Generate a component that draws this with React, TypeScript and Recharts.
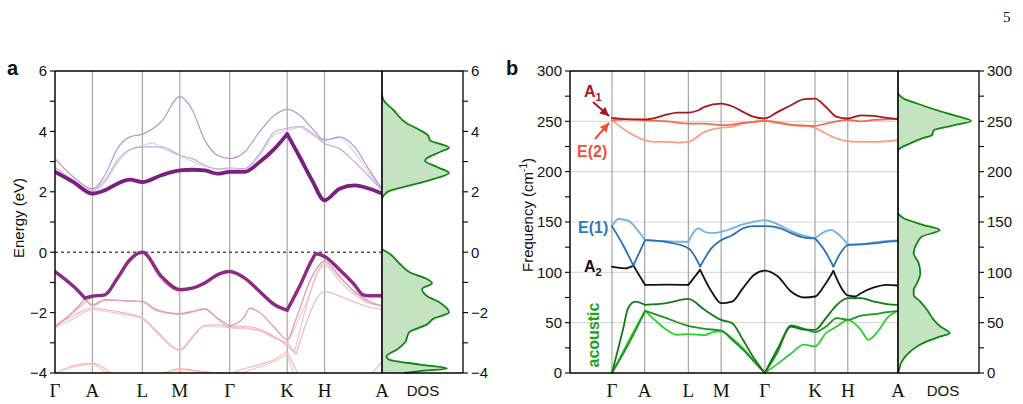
import React from 'react';
import { LineChart, Line, XAxis, YAxis, CartesianGrid, ReferenceLine, AreaChart, Area } from 'recharts';

// High-symmetry path (cumulative k distance) and labels
const HS_K = [0, 0.75, 1.75, 2.5, 3.5, 4.65, 5.4, 6.55];
const HS_LABELS = ['Γ', 'A', 'L', 'M', 'Γ', 'K', 'H', 'A'];

const E_TICKS = [-4, -3, -2, -1, 0, 1, 2, 3, 4, 5, 6];
const F_TICKS = [0, 25, 50, 75, 100, 125, 150, 175, 200, 225, 250, 275, 300];
const F_GRID = [50, 100, 150, 200, 250];

// ---- Electronic bands: [k, E (eV), kink?] ----
const cbUpper = [[0, 3.1], [0.37, 2.49], [0.75, 2.1], [1.0, 2.55], [1.25, 3.43], [1.5, 3.82], [1.75, 3.91], [2.13, 4.32], [2.5, 5.15], [2.75, 4.71], [3.0, 3.71], [3.25, 3.21], [3.5, 3.1], [3.8, 3.32], [4.1, 3.99], [4.4, 4.54], [4.65, 4.73], [4.9, 4.54], [5.15, 4.1], [5.4, 3.71], [5.7, 3.82], [6.0, 3.49], [6.3, 2.71], [6.55, 2.1]];
const cbMiddle = [[0, 2.82], [0.37, 2.38], [0.75, 2.05], [1.0, 2.38], [1.25, 3.04], [1.5, 3.4], [1.75, 3.49], [2.13, 3.49], [2.5, 3.21], [2.75, 3.1], [3.0, 2.88], [3.25, 2.75], [3.5, 2.79], [3.8, 2.77], [4.1, 3.27], [4.4, 3.99], [4.65, 4.1], [4.9, 4.17], [5.15, 3.95], [5.4, 3.6], [5.7, 3.43], [6.0, 2.99], [6.3, 2.49], [6.55, 2.05]];
const cbMiddle2 = [[0, 2.76], [0.37, 2.34], [0.75, 2.0], [1.0, 2.3], [1.25, 2.95], [1.5, 3.38], [1.75, 3.52], [1.95, 3.62], [2.13, 3.45], [2.5, 3.2], [3.0, 2.84], [3.5, 2.74], [3.8, 2.74], [4.1, 3.2], [4.4, 3.9], [4.65, 4.02], [4.9, 4.14], [5.15, 3.88], [5.4, 3.72], [5.7, 3.78], [6.0, 3.3], [6.3, 2.6], [6.55, 2.08]];
const cbLowest = [[0, 2.66], [0.37, 2.32], [0.75, 1.94], [1.0, 2.05], [1.25, 2.27], [1.5, 2.4], [1.75, 2.32], [2.13, 2.55], [2.5, 2.71], [2.75, 2.73], [3.0, 2.71], [3.25, 2.6], [3.5, 2.66], [3.8, 2.66], [4.1, 2.99], [4.4, 3.43], [4.65, 3.91, 1], [4.9, 3.16], [5.15, 2.38], [5.4, 1.72], [5.7, 2.1], [6.0, 2.21], [6.3, 2.1], [6.55, 1.94]];

const vbTop = [[0, -0.64], [0.37, -1.13], [0.6, -1.52, 1], [0.75, -1.46], [1.0, -1.41], [1.25, -0.86], [1.5, -0.25], [1.75, 0], [2.13, -0.8], [2.5, -1.24], [2.75, -1.19], [3.0, -1.02], [3.25, -0.75], [3.5, -0.64], [3.8, -0.86], [4.1, -1.3], [4.4, -1.74], [4.65, -1.92, 1], [4.9, -1.13], [5.15, -0.25], [5.23, -0.05], [5.4, -0.14], [5.7, -0.58], [6.0, -1.08], [6.17, -1.41], [6.3, -1.44], [6.55, -1.44]];
const vbSecond = [[1.5, -0.3], [1.75, -0.02], [2.13, -0.92], [2.5, -1.3], [2.75, -1.22]];
const vbP1 = [[0, -2.45], [0.37, -1.96], [0.6, -1.55, 1], [0.75, -1.74], [1.0, -1.57], [1.5, -1.62], [1.75, -1.63], [2.03, -1.9], [2.5, -2.03], [2.75, -1.96], [3.0, -1.87], [3.25, -2.18], [3.5, -2.45, 1], [3.8, -2.12], [3.9, -1.85], [4.1, -2.0], [4.4, -2.5], [4.65, -2.89], [4.83, -2.2], [5.15, -0.8], [5.4, -0.3], [5.7, -0.8], [6.0, -1.3], [6.3, -1.65], [6.55, -1.79]];
const vbP2 = [[0, -2.45], [0.37, -2.1], [0.75, -1.85], [1.0, -1.9], [1.5, -2.05], [1.75, -2.18], [2.03, -2.6], [2.5, -3.22], [2.75, -2.8], [3.0, -2.42], [3.25, -2.4], [3.5, -2.45], [3.8, -2.45], [4.1, -2.55], [4.4, -2.8], [4.65, -3.1], [4.83, -3.38, 1], [5.0, -2.5], [5.4, -1.3], [5.7, -1.45], [6.0, -1.65], [6.3, -1.82], [6.55, -1.9]];
const vbP3 = [[0, -2.5], [0.37, -2.0], [0.65, -1.6, 1], [0.75, -1.8], [1.0, -1.6], [1.5, -1.6], [1.75, -1.65], [2.03, -1.95], [2.5, -2.07], [3.0, -1.9], [3.25, -2.2], [3.5, -2.5], [3.8, -2.5], [4.1, -2.6], [4.4, -2.85], [4.65, -3.0], [4.8, -3.3, 1], [5.0, -2.0], [5.4, -0.42], [5.7, -0.95], [6.0, -1.4], [6.3, -1.7], [6.55, -1.75]];
const vbP4 = [[0, -2.5], [0.37, -2.2], [0.75, -1.9], [1.0, -1.95], [1.5, -2.1], [1.75, -2.2], [2.03, -2.65], [2.5, -3.25], [3.0, -2.45], [3.5, -2.5], [4.1, -2.6], [4.65, -3.05, 1], [5.0, -1.8], [5.4, -0.35], [5.7, -0.85], [6.0, -1.3], [6.3, -1.6], [6.55, -1.8]];
const vbDeep1 = [[0, -4.05], [0.37, -3.75], [0.75, -3.68], [1.0, -3.85], [1.25, -4.15], [1.5, -4.3], [2.03, -4.1], [2.5, -3.85], [2.75, -3.9], [3.0, -3.95], [3.5, -4.0], [3.8, -3.85], [4.1, -3.72], [4.4, -3.55], [4.65, -3.3, 1], [4.83, -3.9], [5.0, -4.5]];
const vbDeep2 = [[0, -4.0], [0.37, -3.8], [0.75, -3.72], [1.0, -3.95], [1.25, -4.2], [2.03, -4.05], [2.5, -3.9], [3.0, -3.98], [3.5, -4.05], [4.1, -3.8], [4.4, -3.62], [4.65, -3.4, 1], [4.8, -4.1], [5.0, -4.6]];
const vbDeep3 = [[5.9, -4.6], [6.3, -4.1], [6.55, -3.62]];

// ---- Phonon branches: [k, frequency (cm^-1), kink?] ----
const phA1 = [[0, 253.4], [0.37, 252], [0.76, 252], [1.0, 253.5], [1.25, 256.7], [1.5, 258.7], [1.75, 258.7], [1.98, 261], [2.12, 264.3], [2.5, 267.6], [2.75, 265], [3.0, 259.4], [3.25, 254.4], [3.5, 252.8], [3.8, 259.4], [4.1, 266], [4.4, 272], [4.65, 272.6], [4.9, 264.3], [5.15, 254.4], [5.4, 252.8], [5.7, 256], [6.0, 255.4], [6.3, 253.4], [6.55, 252]];
const phE2a = [[0, 251.1], [0.37, 252], [0.76, 251], [1.25, 250], [1.75, 247.8], [2.12, 247.8], [2.5, 246.2], [2.75, 246.8], [3.0, 248.5], [3.25, 249.5], [3.5, 250.4], [3.8, 248.5], [4.1, 246.5], [4.4, 245.5], [4.65, 245.5], [4.9, 247.8], [5.15, 250], [5.4, 251.4], [5.7, 250], [6.0, 251.4], [6.3, 252], [6.55, 252.8]];
const phE2b = [[0, 251], [0.37, 239.5], [0.76, 231.2], [1.0, 229.6], [1.25, 229.6], [1.5, 228.9], [1.75, 229.6], [2.12, 239.5], [2.5, 243.5], [2.75, 244.5], [3.0, 247.8], [3.25, 249.5], [3.5, 250.4], [3.8, 249.5], [4.1, 246.8], [4.4, 246.2], [4.65, 243.5], [4.9, 237.9], [5.15, 232.9], [5.4, 230.2], [5.7, 229.6], [6.0, 229.6], [6.3, 230.2], [6.55, 231.2]];
const phE1a = [[0, 145.9], [0.15, 153], [0.37, 151.3], [0.57, 143], [0.76, 131.9, 1], [1.0, 131.3], [1.25, 131], [1.5, 130.4], [1.75, 130.4, 1], [1.98, 143.6], [2.12, 140.3], [2.28, 139], [2.5, 140.3], [2.75, 143.6], [3.0, 147.6], [3.25, 150.2], [3.5, 151.9], [3.8, 147.6], [4.1, 141], [4.4, 136.4], [4.65, 133.7, 1], [4.9, 141], [5.03, 142], [5.15, 139], [5.4, 127.8, 1], [5.7, 127.8], [6.0, 129.7], [6.3, 131], [6.55, 131.9]];
const phE1b = [[0, 145.9], [0.26, 126.7], [0.49, 106.9, 1], [0.76, 131.9, 1], [1.25, 130], [1.75, 124], [2.02, 105.8, 1], [2.28, 124], [2.5, 131.9], [2.75, 136.8], [3.0, 143.6], [3.25, 145.9], [3.5, 145.9], [3.8, 144.5], [4.1, 139], [4.4, 134.5], [4.65, 133.7, 1], [4.88, 121], [5.07, 105.8, 1], [5.26, 121], [5.4, 127.1], [5.7, 127.8], [6.0, 128.7], [6.3, 130.4], [6.55, 131.3]];
const phA2 = [[0, 105.7], [0.3, 104], [0.49, 106.7, 1], [0.76, 87.5, 1], [1.25, 87.8], [1.75, 87.5, 1], [2.02, 102.4, 1], [2.28, 80.9], [2.5, 69.4], [2.75, 71], [3.0, 84.3], [3.25, 97.4], [3.5, 101.7], [3.8, 95.8], [4.1, 80.9], [4.4, 75], [4.65, 76], [4.88, 88], [5.07, 101.4, 1], [5.26, 84], [5.4, 77], [5.57, 76], [5.7, 79.3], [6.0, 85], [6.3, 87.5], [6.55, 86.9]];
const phAc1 = [[0, 0], [0.26, 44.5], [0.37, 64.4], [0.53, 71], [0.76, 67.7, 1], [1.25, 69.4], [1.75, 73.6], [2.12, 62.8], [2.5, 52.8], [2.75, 49.6], [3.0, 33], [3.25, 14.8], [3.5, 0, 1], [3.8, 24.7], [4.1, 46.2], [4.4, 43], [4.65, 42.9], [4.9, 54.5], [5.15, 67.7], [5.4, 74.3], [5.7, 74.3], [6.0, 71], [6.3, 68.4], [6.55, 67.7]];
const phAc2 = [[0, 0], [0.37, 28], [0.76, 61.8, 1], [1.25, 54.5], [1.75, 46.8], [2.12, 43.9], [2.5, 42], [2.75, 33], [3.0, 23.3], [3.25, 11.6], [3.5, 0, 1], [3.8, 21.4], [4.1, 47.2], [4.4, 43.9], [4.65, 40.6], [4.9, 46.2], [5.15, 54.5], [5.4, 52.8], [5.7, 57.1], [6.0, 58.4], [6.3, 60.4], [6.55, 61.8]];
const phAc3 = [[0, 0], [0.37, 30.7], [0.76, 61.8, 1], [1.0, 52], [1.25, 42.9], [1.5, 38], [1.75, 38.6], [1.98, 38], [2.12, 37.5], [2.28, 40], [2.5, 41.3], [2.75, 34.6], [3.0, 24.7], [3.25, 12.3], [3.5, 0, 1], [3.8, 9.3], [4.1, 19.3], [4.4, 28.1], [4.65, 26.4], [4.9, 39.6], [5.15, 46.2], [5.4, 52.8], [5.7, 42.9], [5.87, 33], [6.1, 42], [6.3, 54.5], [6.55, 61.8]];

// ---- Densities of states ----
const DOS_E = [-4, -3.94, -3.85, -3.72, -3.55, -3.45, -3.22, -2.99, -2.66, -2.39, -2.19, -2.0, -1.67, -1.45, -1.22, -1.03, -0.89, -0.67, -0.39, -0.06, 0.1, 0.9, 1.77, 1.88, 2.04, 2.21, 2.43, 2.62, 2.82, 3.04, 3.32, 3.46, 3.59, 3.7, 3.87, 4.04, 4.26, 4.7, 5.03, 5.2];
const DOS_EL = [22, 38, 65, 38, 6.7, 4.5, 15, 23, 27, 45, 52, 67, 58, 45, 40, 50, 45, 28, 18, 8, 0, null, 0, 1.7, 8, 28, 52, 67, 55, 43, 58, 67, 58, 48, 46, 38, 25, 11.7, 1.7, 0];
const DOS_F = [0, 1.7, 9.9, 18.2, 26.4, 31.4, 36.3, 39.6, 46.2, 52.8, 62.8, 71, 77.6, 82.6, 89.2, 99.1, 109, 119, 129, 135.5, 142, 147, 153.7, 158.6, 190, 221.4, 223, 228, 233, 236.3, 241.2, 246, 250.4, 255.1, 261, 267.7, 272.6, 277.6];
const DOS_PH = [0, 0.7, 3, 9, 19, 29, 42.3, 51.7, 42.3, 35.7, 29, 22.3, 15.7, 15.7, 19, 22.3, 20.7, 15.7, 19, 24, 41.7, 25.7, 5.7, 0, null, 0, 1.7, 12, 24, 34, 35.7, 55.7, 73, 59, 39, 19, 5.7, 0];

const SANS = "'Liberation Sans', Arial, sans-serif";
const SERIF = "'Liberation Serif', 'Times New Roman', serif";

type Row = { k: number; v: number };

// split a branch at its kink points so each piece is smoothed on its own
function toSegments(band: number[][]): Row[][] {
  const segs: Row[][] = [];
  let cur: Row[] = [];
  band.forEach(([k, v, kink]) => {
    cur.push({ k, v });
    if (kink && cur.length > 1) {
      segs.push(cur);
      cur = [{ k, v }];
    }
  });
  if (cur.length > 1) segs.push(cur);
  return segs;
}

const electronStyles = [
  { band: vbDeep1, color: '#f5b3aa', w: 1.1 },
  { band: vbDeep2, color: '#f7c0b8', w: 1.1 },
  { band: vbDeep3, color: '#f5b3aa', w: 1.1 },
  { band: vbP4, color: '#f2c4d5', w: 1.1 },
  { band: vbP3, color: '#eebccf', w: 1.1 },
  { band: vbP2, color: '#ebb0c6', w: 1.1 },
  { band: vbP1, color: '#d995b4', w: 1.2 },
  { band: vbSecond, color: '#e3b2cb', w: 1.1 },
  { band: cbMiddle2, color: '#dccbe7', w: 1.1 },
  { band: cbMiddle, color: '#c4acd6', w: 1.2 },
  { band: cbUpper, color: '#b398c9', w: 1.2 },
  { band: vbTop, color: '#8e2a84', w: 3.4 },
  { band: cbLowest, color: '#7a1f80', w: 3.8 },
];

const phononStyles = [
  { band: phAc3, color: '#2ccf2c', w: 1.8 },
  { band: phAc2, color: '#1d9320', w: 1.8 },
  { band: phAc1, color: '#157718', w: 1.8 },
  { band: phA2, color: '#111111', w: 1.8 },
  { band: phE1a, color: '#70b3e3', w: 1.8 },
  { band: phE1b, color: '#2b70b6', w: 1.8 },
  { band: phE2b, color: '#f8a182', w: 1.8 },
  { band: phE2a, color: '#f26a4f', w: 1.8 },
  { band: phA1, color: '#a8191c', w: 1.8 },
];

const renderLines = (styles: { band: number[][]; color: string; w: number }[], prefix: string) =>
  styles.flatMap((s, i) =>
    toSegments(s.band).map((seg, j) => (
      <Line
        key={`${prefix}-${i}-${j}`}
        data={seg}
        dataKey="v"
        type="monotone"
        stroke={s.color}
        strokeWidth={s.w}
        strokeLinecap="round"
        dot={false}
        activeDot={false}
        isAnimationActive={false}
      />
    ))
  );

const fmtMinus = (v: number) => String(v).replace('-', '−');
const hsFormatter = (v: number) => HS_LABELS[HS_K.indexOf(v)] ?? '';

const axisLine = { stroke: '#000', strokeWidth: 1.3 };
const tickLine = { stroke: '#000', strokeWidth: 1.1 };
const numTick = { fontFamily: SANS, fontSize: 15, fill: '#111' };
const hsTick = { fontFamily: SERIF, fontSize: 19, fill: '#111' };

const dosElRows = DOS_E.map((e, i) => ({ e, d: DOS_EL[i] }));
const dosPhRows = DOS_F.map((e, i) => ({ e, d: DOS_PH[i] }));

function DosPanel({ rows, domain, ticks, labelStep }: { rows: { e: number; d: number | null }[]; domain: [number, number]; ticks: number[]; labelStep: number }) {
  return (
    <AreaChart layout="vertical" width={136} height={404} data={rows} margin={{ top: 71, right: 5, bottom: 31, left: 10 }}>
      <XAxis type="number" domain={[0, 81]} hide />
      <YAxis
        type="number"
        dataKey="e"
        domain={domain}
        reversed
        orientation="right"
        ticks={ticks}
        interval={0}
        width={40}
        tickSize={5}
        tickMargin={3}
        axisLine={axisLine}
        tickLine={tickLine}
        tick={numTick}
        tickFormatter={(v: number) => (v % labelStep === 0 ? fmtMinus(v) : '')}
      />
      <Area
        dataKey="d"
        type="monotone"
        stroke="#0f870f"
        strokeWidth={1.8}
        fill="#c4e3c0"
        fillOpacity={1}
        isAnimationActive={false}
        connectNulls={false}
        dot={false}
        activeDot={false}
      />
      <ReferenceLine x={0} stroke="#000" strokeWidth={1.6} />
      <ReferenceLine y={domain[1]} stroke="#000" strokeWidth={1.3} />
      <ReferenceLine y={domain[0]} stroke="#000" strokeWidth={1.3} />
    </AreaChart>
  );
}

export default function App() {
  return (
    <div style={{ position: 'absolute', left: 0, top: 0, width: 1023, height: 404, background: '#fff', overflow: 'hidden' }}>
      {/* a: electronic band structure */}
      <div style={{ position: 'absolute', left: 0, top: 0 }}>
        <LineChart width={392} height={404} margin={{ top: 71, right: 10, bottom: 1, left: 10 }}>
          <CartesianGrid horizontal={false} stroke="#a6a6a6" strokeWidth={1.2} />
          <XAxis
            type="number"
            dataKey="k"
            domain={[0, 6.55]}
            ticks={HS_K}
            interval={0}
            allowDataOverflow
            tickSize={0}
            tickMargin={11}
            height={30}
            axisLine={axisLine}
            tickLine={false}
            tick={hsTick}
            tickFormatter={hsFormatter}
          />
          <YAxis
            type="number"
            domain={[-4, 6]}
            ticks={E_TICKS}
            interval={0}
            allowDataOverflow
            width={45}
            tickSize={5}
            tickMargin={3}
            axisLine={axisLine}
            tickLine={tickLine}
            tick={numTick}
            tickFormatter={(v: number) => (v % 2 === 0 ? fmtMinus(v) : '')}
          />
          <ReferenceLine y={6} stroke="#000" strokeWidth={1.3} />
          <ReferenceLine y={0} stroke="#000" strokeWidth={1} strokeDasharray="3 3" />
          {renderLines(electronStyles, 'el')}
        </LineChart>
      </div>
      <div style={{ position: 'absolute', left: 372, top: 0 }}>
        <DosPanel rows={dosElRows} domain={[-4, 6]} ticks={E_TICKS} labelStep={2} />
      </div>

      {/* b: phonon dispersion */}
      <div style={{ position: 'absolute', left: 515, top: 0 }}>
        <LineChart width={393} height={404} margin={{ top: 71, right: 10, bottom: 1, left: 10 }}>
          <CartesianGrid vertical={false} horizontalValues={F_GRID} stroke="#dadada" strokeWidth={1.2} />
          <CartesianGrid horizontal={false} stroke="#a3a3a3" strokeWidth={1.2} />
          <XAxis
            type="number"
            dataKey="k"
            domain={[-0.96, 6.55]}
            ticks={HS_K}
            interval={0}
            tickSize={0}
            tickMargin={11}
            height={30}
            axisLine={axisLine}
            tickLine={false}
            tick={hsTick}
            tickFormatter={hsFormatter}
          />
          <YAxis
            type="number"
            domain={[0, 300]}
            ticks={F_TICKS}
            interval={0}
            width={45}
            tickSize={5}
            tickMargin={3}
            axisLine={axisLine}
            tickLine={tickLine}
            tick={numTick}
            tickFormatter={(v: number) => (v % 50 === 0 ? String(v) : '')}
          />
          <ReferenceLine y={300} stroke="#000" strokeWidth={1.3} />
          {renderLines(phononStyles, 'ph')}
        </LineChart>
      </div>
      <div style={{ position: 'absolute', left: 888, top: 0 }}>
        <DosPanel rows={dosPhRows} domain={[0, 300]} ticks={F_TICKS} labelStep={50} />
      </div>

      {/* panel letters, axis titles and mode labels */}
      <svg width={1023} height={404} style={{ position: 'absolute', left: 0, top: 0, pointerEvents: 'none' }}>
        <defs>
          <marker id="headA1" markerUnits="userSpaceOnUse" markerWidth={9} markerHeight={9} refX={9} refY={4.5} orient="auto">
            <path d="M0,0 L9,4.5 L0,9 z" fill="#a8191c" />
          </marker>
          <marker id="headE2" markerUnits="userSpaceOnUse" markerWidth={9} markerHeight={9} refX={9} refY={4.5} orient="auto">
            <path d="M0,0 L9,4.5 L0,9 z" fill="#f0503a" />
          </marker>
        </defs>
        <text x={1003} y={22} fontFamily={SERIF} fontSize={15} fill="#111">5</text>
        <text x={7} y={75} fontFamily={SANS} fontSize={20} fontWeight="bold" fill="#111">a</text>
        <text x={506} y={75} fontFamily={SANS} fontSize={20} fontWeight="bold" fill="#111">b</text>
        <text transform="translate(24,218) rotate(-90)" textAnchor="middle" fontFamily={SANS} fontSize={15} fill="#111">Energy (eV)</text>
        <text transform="translate(533,215) rotate(-90)" textAnchor="middle" fontFamily={SANS} fontSize={15} fill="#111">
          Frequency (cm<tspan dy={-6} fontSize={10}>-1</tspan><tspan dy={6}>)</tspan>
        </text>
        <text x={423} y={396} textAnchor="middle" fontFamily={SANS} fontSize={15} fill="#111">DOS</text>
        <text x={943} y={396} textAnchor="middle" fontFamily={SANS} fontSize={15} fill="#111">DOS</text>

        <text x={584} y={97} fontFamily={SANS} fontSize={16} fontWeight="bold" fill="#a8191c">
          A<tspan dy={4} fontSize={11}>1</tspan>
        </text>
        <line x1={593} y1={102} x2={609} y2={116} stroke="#a8191c" strokeWidth={2} markerEnd="url(#headA1)" />
        <line x1={595} y1={139} x2={609} y2={123} stroke="#f0503a" strokeWidth={2} markerEnd="url(#headE2)" />
        <text x={577} y={157} fontFamily={SANS} fontSize={16} fontWeight="bold" fill="#f0503a">E(2)</text>
        <text x={578} y={233} fontFamily={SANS} fontSize={16} fontWeight="bold" fill="#2e78c2">E(1)</text>
        <text x={584} y={272} fontFamily={SANS} fontSize={16} fontWeight="bold" fill="#111">
          A<tspan dy={4} fontSize={11}>2</tspan>
        </text>
        <text transform="translate(599,335) rotate(-90)" textAnchor="middle" fontFamily={SANS} fontSize={16} fontWeight="bold" fill="#22a022">acoustic</text>
      </svg>
    </div>
  );
}
